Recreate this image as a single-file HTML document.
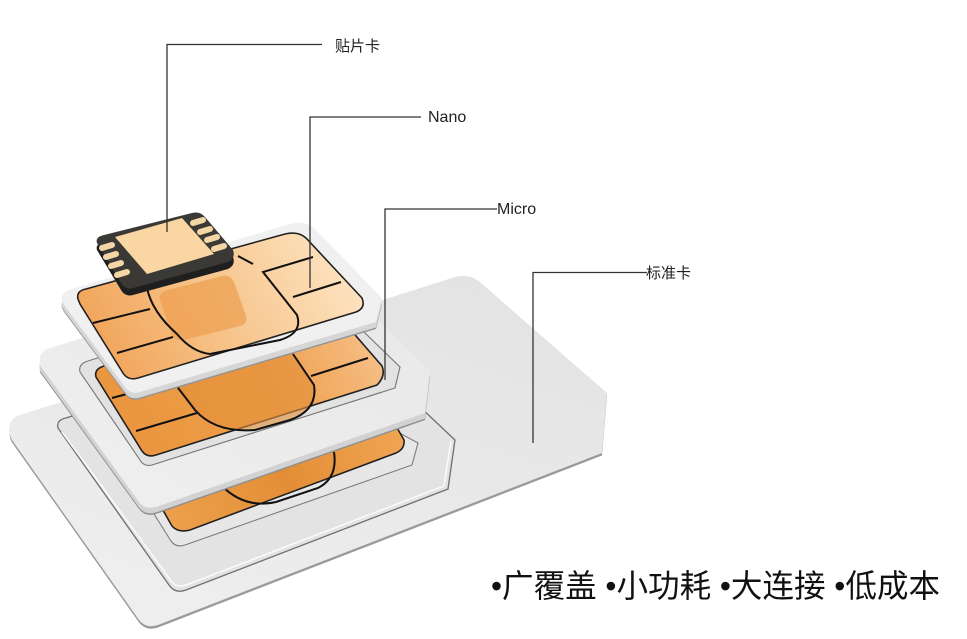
<!DOCTYPE html>
<html><head><meta charset="utf-8"><style>
html,body{margin:0;padding:0;background:#fff;}
svg{display:block;}
</style></head><body>
<svg width="967" height="639" viewBox="0 0 967 639" xmlns="http://www.w3.org/2000/svg">
<defs>
<linearGradient id="gStd" x1="0.8" y1="0" x2="0.2" y2="1">
<stop offset="0" stop-color="#e3e3e3"/><stop offset="0.5" stop-color="#e9e9e9"/><stop offset="1" stop-color="#efefef"/>
</linearGradient>
<linearGradient id="gMic" x1="0" y1="1" x2="1" y2="0">
<stop offset="0" stop-color="#efefef"/><stop offset="1" stop-color="#e8e8e8"/>
</linearGradient>
<linearGradient id="gNanoChip" gradientUnits="userSpaceOnUse" x1="90" y1="370" x2="330" y2="240">
<stop offset="0" stop-color="#f0a053"/><stop offset="0.45" stop-color="#f6c084"/><stop offset="1" stop-color="#fde2bf"/>
</linearGradient>
<linearGradient id="gMicChip" gradientUnits="userSpaceOnUse" x1="110" y1="450" x2="370" y2="320">
<stop offset="0" stop-color="#ea943e"/><stop offset="0.6" stop-color="#ee9f4b"/><stop offset="1" stop-color="#f6c08a"/>
</linearGradient>
<linearGradient id="gBotChip" gradientUnits="userSpaceOnUse" x1="170" y1="520" x2="400" y2="430">
<stop offset="0" stop-color="#eda04c"/><stop offset="0.5" stop-color="#e38e36"/><stop offset="1" stop-color="#f0a553"/>
</linearGradient>
</defs>

<!-- Standard card -->
<path transform="translate(0,2.5)" fill="#9a9a9a" d="M 10,430 Q 8,419 20,415 L 455,277 Q 470,273 481,283 L 607,393 L 602,453 L 158,625 Q 146,629 139,620 L 12,440 Q 9,435 10,430 Z"/>
<path fill="url(#gStd)" d="M 10,430 Q 8,419 20,415 L 455,277 Q 470,273 481,283 L 607,393 L 602,453 L 158,625 Q 146,629 139,620 L 12,440 Q 9,435 10,430 Z"/>

<!-- Standard hole (micro size) -->
<path fill="#e3e3e3" stroke="#6f6f6f" stroke-width="1.3" d="M 58,428 Q 56,420 66,418 L 330,334 Q 340,331 347,338 L 455,440 L 448,489 L 186,590 Q 175,594 169,585 Z"/>
<path fill="none" stroke="#fbfbfb" stroke-width="1.5" d="M 62,432 L 172,582 Q 177,588 186,585 L 444,486 L 451,441"/>
<!-- nested (nano size) -->
<path fill="#e7e7e7" stroke="#7c7c7c" stroke-width="1.1" d="M 120,460 L 330,395 L 418,443 L 412,465 L 185,545 Q 176,548 171,541 Z"/>
<!-- bottom chip -->
<path fill="url(#gBotChip)" stroke="#222" stroke-width="1.6" d="M 140,470 L 380,398 L 404,440 Q 405,449 396,453 L 190,530 Q 178,533 172,526 Z"/>
<path fill="none" stroke="#111" stroke-width="2" d="M 222,486 Q 245,509 276,502 L 318,488 Q 338,478 334,452"/>

<!-- Micro layer -->
<path transform="translate(0,7)" fill="#8e8e8e" d="M 40,362 Q 38,352 50,348 L 305,268 Q 318,264 327,273 L 430,370 L 425,413 L 156,507 Q 145,510 139,502 L 42,368 Q 39,365 40,362 Z"/>
<path transform="translate(0,5.5)" fill="#d2d2d2" d="M 40,362 Q 38,352 50,348 L 305,268 Q 318,264 327,273 L 430,370 L 425,413 L 156,507 Q 145,510 139,502 L 42,368 Q 39,365 40,362 Z"/>
<path fill="url(#gMic)" d="M 40,362 Q 38,352 50,348 L 305,268 Q 318,264 327,273 L 430,370 L 425,413 L 156,507 Q 145,510 139,502 L 42,368 Q 39,365 40,362 Z"/>
<!-- micro cutout -->
<path fill="#e2e2e2" stroke="#757575" stroke-width="1.1" d="M 80,372 Q 78,364 88,361 L 310,291 Q 320,288 327,296 L 400,367 L 395,388 L 152,465 Q 144,467 140,460 Z"/>
<!-- micro chip -->
<path fill="url(#gMicChip)" stroke="#222" stroke-width="1.6" d="M 96,377 Q 94,369 104,366 L 312,302 Q 322,299 330,306 L 382,366 Q 386,376 377,385 L 156,455 Q 147,458 142,451 Z"/>
<path fill="#e38f39" opacity="0.6" d="M 172,382 L 290,350 L 314,385 Q 318,410 290,420 L 255,430 Q 215,432 195,410 Z"/>
<g fill="none" stroke="#111" stroke-width="2">
<path d="M 112,398 L 186,378"/>
<path d="M 136,431 L 197,413"/>
<path d="M 172,380 L 195,410 Q 215,433 255,430 L 290,420 Q 318,410 314,385 L 293,354"/>
<path d="M 311,376 L 368,358"/>
</g>

<!-- Nano layer -->
<path transform="translate(0,7)" fill="#949494" d="M 62,301 Q 60,292 72,289 L 290,224 Q 305,220 314,228 L 382,298 L 376,322 L 140,392 Q 130,395 125,387 L 64,305 Z"/>
<path transform="translate(0,5.5)" fill="#d6d6d6" d="M 62,301 Q 60,292 72,289 L 290,224 Q 305,220 314,228 L 382,298 L 376,322 L 140,392 Q 130,395 125,387 L 64,305 Z"/>
<path fill="#f0f0f0" d="M 62,301 Q 60,292 72,289 L 290,224 Q 305,220 314,228 L 382,298 L 376,322 L 140,392 Q 130,395 125,387 L 64,305 Z"/>
<!-- nano chip -->
<path fill="url(#gNanoChip)" stroke="#222" stroke-width="1.6" d="M 78,299 Q 76,291 86,289 L 285,234 Q 298,231 306,238 L 362,298 Q 366,308 356,312 L 138,378 Q 128,381 123,373 L 80,304 Z"/>
<path fill="#eea052" opacity="0.75" d="M 160,300 Q 158,292 168,290 L 222,276 Q 230,274 234,282 L 246,316 Q 248,324 240,326 L 184,340 Q 176,342 172,335 Z"/>
<g fill="none" stroke="#111" stroke-width="2">
<path d="M 93,323 L 150,309"/>
<path d="M 117,353 L 173,337"/>
<path d="M 147,288 Q 152,312 177,334 Q 192,352 210,354 L 280,340 Q 303,333 297,315 L 263,272 L 313,257"/>
<path d="M 293,297 L 341,282"/>
<path d="M 238,256 L 253,264"/>
</g>

<!-- Patch chip -->
<path transform="translate(0,7)" fill="#1f1f1f" d="M 97,243 Q 95,237 104,235 L 192,213 Q 200,211 205,217 L 233,250 Q 236,258 228,262 L 133,288 Q 125,290 121,283 Z"/>
<path fill="#3b3936" d="M 97,243 Q 95,237 104,235 L 192,213 Q 200,211 205,217 L 233,250 Q 236,258 228,262 L 133,288 Q 125,290 121,283 Z"/>
<path fill="#fad6a2" d="M 115,237 L 182,218 L 214,254 L 147,274 Z"/>
<g stroke="#f4d6a6" stroke-width="6" stroke-linecap="round">
<path d="M 102,248 L 112,245"/>
<path d="M 106,257 L 116,254"/>
<path d="M 111,266 L 121,263"/>
<path d="M 117,275 L 127,272"/>
<path d="M 193,223 L 203,220"/>
<path d="M 200,232 L 210,229"/>
<path d="M 207,240 L 217,237"/>
<path d="M 214,249 L 224,246"/>
</g>

<!-- Leader lines -->
<g fill="none" stroke="#333" stroke-width="1.3">
<path d="M 167,232 L 167,44.5 L 322,44.5"/>
<path d="M 310,288 L 310,117 L 421,117"/>
<path d="M 385,380 L 385,209 L 497,209"/>
<path d="M 533,443 L 533,272.5 L 647,272.5"/>
</g>

<!-- Labels -->
<g fill="#222" font-family="'Liberation Sans','Noto Sans CJK SC',sans-serif">
<text x="335" y="51" font-size="15">贴片卡</text>
<text x="428" y="122" font-size="16">Nano</text>
<text x="497" y="214" font-size="16">Micro</text>
<text x="646" y="278" font-size="15">标准卡</text>
</g>
<text x="491" y="597" font-size="32" fill="#111" textLength="449" lengthAdjust="spacingAndGlyphs" font-family="'Liberation Sans','Noto Sans CJK SC',sans-serif">•广覆盖 •小功耗 •大连接 •低成本</text>
</svg>
</body></html>
